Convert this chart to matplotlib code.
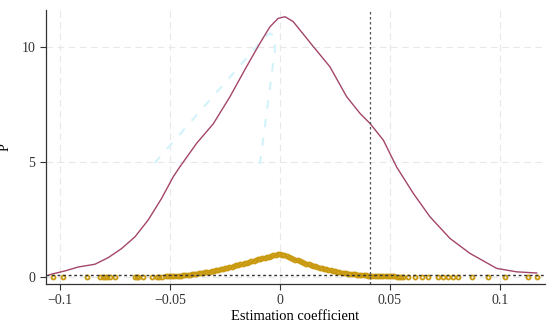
import matplotlib
matplotlib.use("Agg")
import matplotlib.pyplot as plt

# kernel density of the placebo coefficients
dens_x = [-0.105, -0.1038, -0.0977, -0.0917, -0.0841, -0.078, -0.072, -0.0659, -0.0599,
          -0.0538, -0.0485, -0.0455, -0.0379, -0.0303, -0.0227, -0.0152, -0.0091,
          -0.0045, -0.0008, 0.0023, 0.006, 0.0152, 0.0227, 0.0303, 0.0364, 0.0409,
          0.047, 0.053, 0.0606, 0.0682, 0.0773, 0.0864, 0.0985, 0.1076, 0.1167]
dens_y = [0.08, 0.12, 0.26, 0.43, 0.55, 0.84, 1.23, 1.74, 2.47,
          3.41, 4.35, 4.78, 5.8, 6.65, 7.83, 9.13, 10.15,
          10.87, 11.23, 11.3, 11.09, 10.0, 9.13, 7.83, 7.1, 6.67,
          5.94, 4.78, 3.63, 2.61, 1.67, 1.02, 0.37, 0.22, 0.17]

# p-values of the placebo coefficients
p_x = [-0.1033, -0.0985, -0.0879, -0.0818, -0.0805, -0.0795, -0.0784, -0.0773, -0.075,
       -0.0659, -0.0652, -0.0645, -0.0623, -0.0582, -0.0559, -0.0548, -0.0536,
       -0.052, -0.051, -0.050, -0.049, -0.048, -0.047, -0.046, -0.045, -0.044, -0.043,
       -0.042, -0.041, -0.040, -0.039, -0.038, -0.037, -0.036, -0.035, -0.034, -0.033,
       -0.032, -0.031, -0.030, -0.029, -0.028, -0.027, -0.026, -0.025, -0.024, -0.023,
       -0.022, -0.021, -0.020, -0.019, -0.018, -0.017, -0.016, -0.015, -0.014, -0.013,
       -0.012, -0.011, -0.010, -0.009, -0.008, -0.007, -0.006, -0.005, -0.004, -0.003,
       -0.002, -0.001, 0.000,
       0.001, 0.002, 0.003, 0.004, 0.005, 0.006, 0.007, 0.008, 0.009, 0.010,
       0.011, 0.012, 0.013, 0.014, 0.015, 0.016, 0.017, 0.018, 0.019, 0.020,
       0.021, 0.022, 0.023, 0.024, 0.025, 0.026, 0.027, 0.028, 0.029, 0.030,
       0.031, 0.032, 0.033, 0.034, 0.035, 0.036, 0.037, 0.038, 0.039, 0.040,
       0.041, 0.042, 0.043, 0.044, 0.045, 0.046, 0.047, 0.048, 0.049, 0.050,
       0.051, 0.052, 0.053, 0.054, 0.055, 0.056,
       0.0583, 0.0614, 0.0644, 0.0674, 0.072, 0.0741, 0.0764, 0.0786, 0.081,
       0.0871, 0.0947, 0.1023, 0.1129, 0.1167]
p_y = [0.0, 0.0, 0.0, 0.0, 0.0, 0.0, 0.0, 0.0, 0.0,
       0.0, 0.0, 0.0, 0.0, 0.0, 0.0, 0.0, 0.01,
       0.02, 0.025, 0.03, 0.035, 0.04, 0.045, 0.05, 0.06, 0.07, 0.08,
       0.09, 0.10, 0.12, 0.13, 0.14, 0.155, 0.17, 0.185, 0.20, 0.215,
       0.23, 0.25, 0.27, 0.29, 0.31, 0.33, 0.35, 0.375, 0.40, 0.425,
       0.45, 0.475, 0.50, 0.525, 0.55, 0.575, 0.60, 0.625, 0.65, 0.675,
       0.70, 0.73, 0.76, 0.785, 0.81, 0.835, 0.86, 0.885, 0.91, 0.93,
       0.95, 0.975, 1.00,
       0.965, 0.93, 0.895, 0.86, 0.825, 0.79, 0.755, 0.72, 0.685, 0.65,
       0.615, 0.58, 0.55, 0.52, 0.49, 0.46, 0.43, 0.40, 0.375, 0.35,
       0.325, 0.30, 0.28, 0.26, 0.24, 0.22, 0.205, 0.19, 0.175, 0.16,
       0.145, 0.13, 0.12, 0.11, 0.10, 0.09, 0.08, 0.07, 0.065, 0.06,
       0.055, 0.05, 0.045, 0.04, 0.035, 0.03, 0.03, 0.03, 0.025, 0.02,
       0.02, 0.02, 0.015, 0.01, 0.01, 0.01,
       0.0, 0.0, 0.0, 0.0, 0.0, 0.0, 0.0, 0.0, 0.0,
       0.0, 0.0, 0.0, 0.0, 0.0]

# faint dashed arch in the background
arch_x = [-0.057, -0.0065, -0.0045, -0.0025, -0.0023, -0.0091]
arch_y = [4.94, 10.45, 10.58, 10.45, 9.85, 4.9]

true_coef = 0.041
p_line = 0.08

plt.rcParams['font.family'] = ['Liberation Serif', 'DejaVu Serif']

fig = plt.figure(figsize=(5.5, 3.28), dpi=100)
ax = fig.add_axes([0.083, 0.134, 0.908, 0.836])

for v in [-0.1, -0.05, 0, 0.05, 0.1]:
    ax.axvline(v, color='#e8e8e8', lw=0.8, ls=(0, (6, 4)), zorder=0)
for v in [0, 5, 10]:
    ax.axhline(v, color='#e8e8e8', lw=0.8, ls=(0, (6, 4)), zorder=0)

ax.plot(arch_x, arch_y, color='#d2f3fb', lw=1.5, ls=(0, (4, 5)), zorder=1)

ax.plot(dens_x, dens_y, color='#a3456a', lw=1.0, zorder=3)
ax.plot(p_x, p_y, ls='none', marker='o', ms=2.9, mfc='none', mec='#c99a10',
        mew=1.3, zorder=4)

ax.axhline(p_line, color='#333333', lw=1.0, ls=(0, (2, 2)), zorder=5)
ax.axvline(true_coef, color='#555555', lw=0.9, ls=(0, (2, 2)), zorder=5)

ax.set_xlim(-0.1065, 0.1205)
ax.set_ylim(-0.31, 11.6)
ax.set_xticks([-0.1, -0.05, 0, 0.05, 0.1])
ax.set_xticklabels(['\u22120.1', '\u22120.05', '0', '0.05', '0.1'])
ax.set_yticks([0, 5, 10])
ax.tick_params(labelsize=10, colors='#333333', length=4, width=0.8)
for s in ['top', 'right']:
    ax.spines[s].set_visible(False)
for s in ['left', 'bottom']:
    ax.spines[s].set_color('#333333')
    ax.spines[s].set_linewidth(0.9)

ax.set_xlabel('Estimation coefficient', fontsize=10.5, labelpad=2)
ax.set_ylabel('P', fontsize=10)
ax.yaxis.set_label_coords(-0.068, 0.5)

fig.savefig('out.png', dpi=100)
